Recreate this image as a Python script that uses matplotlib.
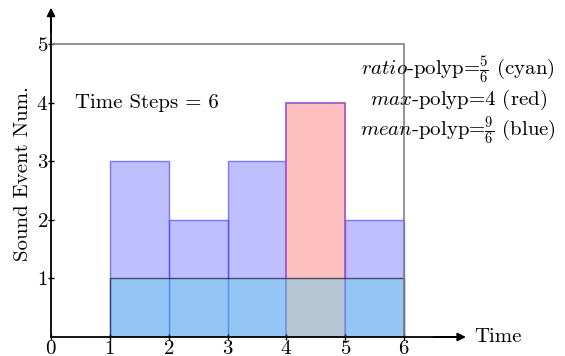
import matplotlib
matplotlib.use('Agg')
import matplotlib.pyplot as plt

plt.rcParams['font.family'] = 'serif'
plt.rcParams['font.serif'] = ['cmr10']
plt.rcParams['mathtext.fontset'] = 'cm'
plt.rcParams['axes.formatter.use_mathtext'] = True

# data
time_steps = [1, 2, 3, 4, 5]          # left edge of each step
event_num = [3, 2, 3, 4, 2]           # sound events per step
max_step = 4                          # step holding the max (red)
ratio_start, ratio_end = 1, 6         # cyan strip
ratio_height = 1
box_top, box_right = 5, 6

fig = plt.figure(figsize=(5.65, 3.56), dpi=100)
ax = fig.add_axes([51/565, 19/356, (463-51)/565, (337-10)/356])

# blue bars
for t, n in zip(time_steps, event_num):
    if t == max_step:
        continue
    ax.bar(t, n, width=1, align='edge', color=(0, 0, 1, 0.25),
           edgecolor=(0.3, 0.3, 1, 0.7), linewidth=1)
# red bar
i = time_steps.index(max_step)
ax.bar(max_step, event_num[i], width=1, align='edge', color='#ffc0c0',
       edgecolor='#9a50d0', linewidth=1.2)
# cyan strip
ax.bar(ratio_start, ratio_height, width=ratio_end - ratio_start, align='edge',
       color=(0.39, 0.80, 0.92, 0.48), edgecolor=(0.1, 0.1, 0.2, 0.7), linewidth=1)

# gray frame
ax.plot([0, box_right, box_right], [box_top, box_top, 0], color='#808080', lw=1.2)

ax.set_xlim(0, 7)
ax.set_ylim(0, 5.58)
for s in ['top', 'right']:
    ax.spines[s].set_visible(False)
for s in ['left', 'bottom']:
    ax.spines[s].set_linewidth(1.3)
ax.spines['left'].set_zorder(5)
ax.spines['bottom'].set_zorder(5)

# arrows
ax.annotate('', xy=(7.05, 0), xytext=(6.5, 0), xycoords='data',
            arrowprops=dict(arrowstyle='-|>', color='black', lw=1.3,
                            mutation_scale=12, shrinkA=0, shrinkB=0),
            annotation_clip=False)
ax.annotate('', xy=(0, 5.62), xytext=(0, 5.2), xycoords='data',
            arrowprops=dict(arrowstyle='-|>', color='black', lw=1.3,
                            mutation_scale=12, shrinkA=0, shrinkB=0),
            annotation_clip=False)

ax.set_xticks([0, 1, 2, 3, 4, 5, 6])
ax.set_yticks([1, 2, 3, 4, 5])
ax.tick_params(axis='both', labelsize=15, length=4, width=1, direction='inout', pad=0)

ax.set_ylabel('Sound Event Num.', fontsize=15, labelpad=3)
ax.text(7.2, 0, 'Time', fontsize=15, va='center', ha='left')

ax.text(0.41, 4.0, 'Time Steps = 6', fontsize=15, va='center', ha='left')
ax.text(6.92, 4.56, r'$ratio$-polyp=$\frac{5}{6}$ (cyan)', fontsize=15, va='center', ha='center')
ax.text(6.92, 4.04, r'$max$-polyp=4 (red)', fontsize=15, va='center', ha='center')
ax.text(6.92, 3.52, r'$mean$-polyp=$\frac{9}{6}$ (blue)', fontsize=15, va='center', ha='center')

plt.savefig('out.png', dpi=100)
